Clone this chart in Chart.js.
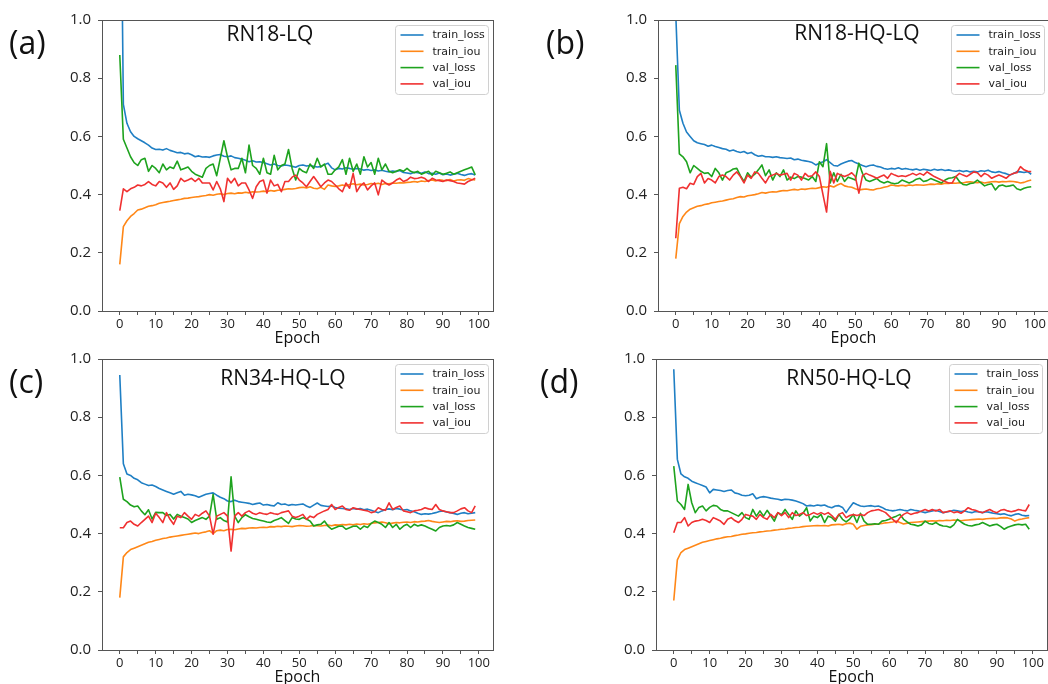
<!DOCTYPE html>
<html>
<head>
<meta charset="utf-8">
<script src="https://cdn.jsdelivr.net/npm/chart.js@4.4.1/dist/chart.umd.min.js"></script>
<style>
html, body { margin: 0; padding: 0; background: #fff; }
body { width: 1048px; height: 684px; overflow: hidden; position: relative; font-family: "Open Sans", sans-serif; }
.panel { position: absolute; width: 500px; height: 350px; }
.tag { position: absolute; font-size: 32px; line-height: 32px; color: #111; }
</style>
</head>
<body>
<div class="panel" style="left:0;top:0"><canvas id="graphA"></canvas></div>
<div class="panel" style="left:556px;top:0"><canvas id="graphB"></canvas></div>
<div class="panel" style="left:0;top:339px"><canvas id="graphC"></canvas></div>
<div class="panel" style="left:554px;top:339px"><canvas id="graphD"></canvas></div>
<div class="tag" style="left:9px;top:26px">(a)</div>
<div class="tag" style="left:546px;top:26px">(b)</div>
<div class="tag" style="left:9px;top:365px">(c)</div>
<div class="tag" style="left:540px;top:365px">(d)</div>
<script>
const epochs = Array.from({ length: 100 }, (_, i) => i);
const seriesNames = ['train_loss', 'train_iou', 'val_loss', 'val_iou'];
const seriesColors = ['#1f7fc4', '#ff8717', '#1ea31e', '#f03030'];
const xTickValues = [0, 5, 10, 15, 20, 25, 30, 35, 40, 45, 50, 55, 60, 65, 70, 75, 80, 85, 90, 95, 100];
const yTickValues = [0, 0.2, 0.4, 0.6, 0.8, 1.0];
const panelTitles = ['RN18-LQ', 'RN18-HQ-LQ', 'RN34-HQ-LQ', 'RN50-HQ-LQ'];

// (a) RN18-LQ
const aTrainLoss = [
  1.85, 0.71, 0.645, 0.616, 0.600, 0.592, 0.585, 0.578, 0.570, 0.560,
  0.555, 0.556, 0.553, 0.558, 0.552, 0.548, 0.544, 0.545, 0.540, 0.542,
  0.537, 0.530, 0.533, 0.529, 0.530, 0.528, 0.533, 0.536, 0.538, 0.532,
  0.530, 0.533, 0.527, 0.525, 0.522, 0.518, 0.513, 0.516, 0.512, 0.513,
  0.510, 0.506, 0.502, 0.505, 0.500, 0.498, 0.502, 0.500, 0.497, 0.494,
  0.500, 0.502, 0.498, 0.500, 0.497, 0.495, 0.496, 0.503, 0.508, 0.492,
  0.485, 0.490, 0.488, 0.492, 0.490, 0.487, 0.490, 0.488, 0.484, 0.486,
  0.483, 0.485, 0.481, 0.484, 0.480, 0.478, 0.481, 0.479, 0.483, 0.476,
  0.474, 0.472, 0.477, 0.475, 0.473, 0.478, 0.472, 0.473, 0.470, 0.474,
  0.468, 0.471, 0.467, 0.470, 0.473, 0.469, 0.466, 0.470, 0.472, 0.467
];
const aTrainIou = [
  0.16, 0.29, 0.31, 0.325, 0.335, 0.347, 0.35, 0.355, 0.36, 0.362,
  0.365, 0.37, 0.373, 0.375, 0.377, 0.38, 0.382, 0.384, 0.387, 0.388,
  0.39, 0.392, 0.393, 0.395, 0.397, 0.40, 0.398, 0.401, 0.403, 0.40,
  0.404, 0.405, 0.403, 0.406, 0.405, 0.408, 0.406, 0.41, 0.409, 0.41,
  0.412, 0.41, 0.414, 0.412, 0.415, 0.416, 0.418, 0.42, 0.419, 0.421,
  0.424, 0.425, 0.423, 0.427, 0.422, 0.42, 0.425, 0.418, 0.433, 0.43,
  0.428, 0.43, 0.433, 0.43, 0.435, 0.437, 0.434, 0.436, 0.433, 0.435,
  0.438, 0.436, 0.439, 0.435, 0.438, 0.437, 0.44, 0.439, 0.441, 0.44,
  0.442, 0.443, 0.445, 0.443, 0.447, 0.445, 0.448, 0.45, 0.447, 0.451,
  0.449, 0.448, 0.452, 0.447, 0.45, 0.451, 0.449, 0.455, 0.452, 0.45
];
const aValLoss = [
  0.88, 0.59, 0.56, 0.53, 0.51, 0.50, 0.52, 0.525, 0.48, 0.50,
  0.49, 0.475, 0.505, 0.485, 0.495, 0.49, 0.515, 0.485, 0.49, 0.495,
  0.48, 0.47, 0.465, 0.46, 0.49, 0.50, 0.505, 0.465, 0.525, 0.585,
  0.53, 0.485, 0.49, 0.49, 0.525, 0.475, 0.57, 0.50, 0.49, 0.47,
  0.525, 0.475, 0.47, 0.535, 0.485, 0.50, 0.505, 0.555, 0.49, 0.45,
  0.49, 0.48, 0.475, 0.505, 0.49, 0.525, 0.495, 0.505, 0.47, 0.47,
  0.485, 0.495, 0.52, 0.47, 0.525, 0.48, 0.505, 0.47, 0.53, 0.495,
  0.51, 0.47, 0.525, 0.485, 0.505, 0.48, 0.475, 0.48, 0.485, 0.48,
  0.49, 0.48, 0.475, 0.48, 0.47, 0.475, 0.48, 0.467, 0.48, 0.475,
  0.47, 0.473, 0.478, 0.47, 0.475, 0.48, 0.485, 0.49, 0.495, 0.468
];
const aValIou = [
  0.345, 0.42, 0.41, 0.42, 0.425, 0.433, 0.43, 0.435, 0.445, 0.435,
  0.43, 0.445, 0.44, 0.425, 0.44, 0.418, 0.43, 0.456, 0.445, 0.45,
  0.456, 0.445, 0.456, 0.44, 0.44, 0.44, 0.416, 0.445, 0.42, 0.376,
  0.456, 0.44, 0.456, 0.43, 0.44, 0.44, 0.416, 0.387, 0.427, 0.445,
  0.45, 0.405, 0.45, 0.43, 0.435, 0.41, 0.445, 0.445, 0.46, 0.467,
  0.45, 0.44, 0.427, 0.445, 0.462, 0.445, 0.427, 0.44, 0.45, 0.445,
  0.433, 0.42, 0.41, 0.44, 0.422, 0.473, 0.41, 0.43, 0.44, 0.416,
  0.43, 0.44, 0.399, 0.45, 0.44, 0.433, 0.44, 0.45, 0.456, 0.445,
  0.45, 0.46, 0.455, 0.456, 0.46, 0.455, 0.445, 0.456, 0.45, 0.448,
  0.445, 0.45, 0.448, 0.445, 0.44, 0.438, 0.436, 0.445, 0.45, 0.456
];

// (b) RN18-HQ-LQ
const bTrainLoss = [
  1.02, 0.69, 0.645, 0.615, 0.60, 0.585, 0.578, 0.575, 0.572, 0.566,
  0.570, 0.565, 0.562, 0.558, 0.556, 0.55, 0.553, 0.548, 0.545, 0.548,
  0.541, 0.545, 0.537, 0.532, 0.534, 0.53, 0.53, 0.528, 0.53, 0.527,
  0.526, 0.524, 0.526, 0.52, 0.522, 0.518, 0.516, 0.514, 0.51, 0.502,
  0.508, 0.513, 0.52, 0.51, 0.50, 0.498, 0.505, 0.51, 0.515, 0.517,
  0.51, 0.505, 0.50, 0.496, 0.50, 0.502, 0.497, 0.495, 0.49, 0.487,
  0.49, 0.488, 0.492, 0.487, 0.49, 0.487, 0.485, 0.488, 0.484, 0.487,
  0.485, 0.483, 0.487, 0.484, 0.486, 0.483, 0.485, 0.482, 0.48, 0.483,
  0.479, 0.482, 0.478, 0.48, 0.478, 0.482, 0.48, 0.484, 0.478, 0.476,
  0.479, 0.475, 0.472, 0.467, 0.472, 0.479, 0.478, 0.476, 0.479, 0.47
];
const bTrainIou = [
  0.18, 0.30, 0.325, 0.34, 0.35, 0.355, 0.36, 0.362, 0.366, 0.368,
  0.372, 0.374, 0.376, 0.378, 0.381, 0.384, 0.386, 0.39, 0.393, 0.392,
  0.396, 0.398, 0.40, 0.403, 0.407, 0.405, 0.408, 0.41, 0.409, 0.412,
  0.414, 0.413, 0.416, 0.418, 0.416, 0.419, 0.418, 0.42, 0.422, 0.421,
  0.424, 0.427, 0.425, 0.43, 0.426, 0.433, 0.438, 0.43, 0.427, 0.425,
  0.42, 0.416, 0.418, 0.419, 0.417, 0.416, 0.42, 0.422, 0.425, 0.428,
  0.433, 0.431, 0.43, 0.432, 0.43, 0.433, 0.431, 0.434, 0.433, 0.432,
  0.434, 0.436, 0.435, 0.437, 0.436, 0.439, 0.438, 0.44, 0.439, 0.441,
  0.44, 0.443, 0.444, 0.442, 0.441, 0.443, 0.44, 0.442, 0.444, 0.445,
  0.443, 0.445, 0.444, 0.446, 0.445, 0.443, 0.44, 0.442, 0.447, 0.45
];
const bValLoss = [
  0.845, 0.54, 0.53, 0.513, 0.475, 0.50, 0.49, 0.48, 0.473, 0.475,
  0.462, 0.49, 0.475, 0.45, 0.475, 0.48, 0.488, 0.49, 0.465, 0.445,
  0.475, 0.46, 0.47, 0.485, 0.502, 0.465, 0.485, 0.45, 0.475, 0.462,
  0.485, 0.45, 0.46, 0.455, 0.462, 0.46, 0.455, 0.45, 0.462, 0.445,
  0.513, 0.496, 0.575, 0.44, 0.475, 0.445, 0.47, 0.445, 0.46, 0.455,
  0.45, 0.508, 0.473, 0.45, 0.445, 0.45, 0.455, 0.445, 0.44, 0.445,
  0.44, 0.437, 0.44, 0.45, 0.445, 0.44, 0.445, 0.453, 0.456, 0.445,
  0.448, 0.455, 0.45, 0.445, 0.44, 0.45, 0.456, 0.458, 0.462, 0.445,
  0.435, 0.433, 0.438, 0.44, 0.45, 0.44, 0.43, 0.435, 0.437, 0.416,
  0.43, 0.433, 0.428, 0.43, 0.433, 0.42, 0.416, 0.422, 0.425, 0.427
];
const bValIou = [
  0.25, 0.422, 0.425, 0.42, 0.439, 0.435, 0.462, 0.473, 0.44, 0.455,
  0.45, 0.44, 0.462, 0.467, 0.462, 0.45, 0.467, 0.478, 0.462, 0.44,
  0.467, 0.456, 0.478, 0.473, 0.456, 0.44, 0.462, 0.467, 0.473, 0.467,
  0.47, 0.473, 0.45, 0.473, 0.467, 0.45, 0.473, 0.462, 0.465, 0.478,
  0.462, 0.40, 0.34, 0.48, 0.44, 0.473, 0.467, 0.462, 0.467, 0.475,
  0.462, 0.405, 0.465, 0.473, 0.467, 0.462, 0.456, 0.462, 0.467, 0.456,
  0.473, 0.467, 0.462, 0.465, 0.462, 0.467, 0.473, 0.467, 0.473, 0.467,
  0.478, 0.47, 0.462, 0.456, 0.45, 0.445, 0.44, 0.44, 0.462, 0.473,
  0.467, 0.462, 0.47, 0.478, 0.475, 0.462, 0.473, 0.467, 0.456, 0.462,
  0.467, 0.462, 0.456, 0.467, 0.473, 0.475, 0.496, 0.485, 0.48, 0.479
];

// (c) RN34-HQ-LQ
const cTrainLoss = [
  0.945, 0.64, 0.605, 0.60, 0.59, 0.585, 0.575, 0.57, 0.565, 0.567,
  0.562, 0.555, 0.55, 0.545, 0.54, 0.535, 0.54, 0.545, 0.532, 0.535,
  0.533, 0.53, 0.525, 0.53, 0.535, 0.538, 0.54, 0.532, 0.525, 0.52,
  0.512, 0.51, 0.515, 0.51, 0.508, 0.506, 0.504, 0.50, 0.503, 0.505,
  0.498, 0.50, 0.497, 0.495, 0.506, 0.50, 0.502, 0.497, 0.50, 0.498,
  0.50, 0.502, 0.495, 0.49, 0.498, 0.505, 0.497, 0.495, 0.493, 0.495,
  0.49, 0.487, 0.486, 0.485, 0.483, 0.486, 0.484, 0.486, 0.482, 0.484,
  0.48, 0.476, 0.472, 0.478, 0.483, 0.485, 0.482, 0.486, 0.484, 0.481,
  0.483, 0.478, 0.475, 0.47, 0.466, 0.468, 0.467, 0.469, 0.472, 0.476,
  0.478, 0.474, 0.472, 0.469, 0.466, 0.47, 0.472, 0.468, 0.47, 0.472
];
const cTrainIou = [
  0.18, 0.32, 0.335, 0.345, 0.35, 0.355, 0.36, 0.365, 0.37, 0.373,
  0.377, 0.38, 0.383, 0.385, 0.388, 0.39, 0.392, 0.394, 0.396, 0.398,
  0.40, 0.402, 0.40, 0.404, 0.406, 0.41, 0.40, 0.41, 0.412, 0.41,
  0.414, 0.415, 0.413, 0.416, 0.418, 0.417, 0.419, 0.42, 0.419, 0.421,
  0.422, 0.421, 0.424, 0.423, 0.425, 0.424, 0.426, 0.425, 0.424, 0.426,
  0.428, 0.427, 0.425, 0.426, 0.428, 0.427, 0.426, 0.428, 0.429, 0.427,
  0.43, 0.429, 0.431, 0.43, 0.432, 0.43, 0.433, 0.431, 0.434, 0.432,
  0.435, 0.437, 0.438, 0.44, 0.437, 0.434, 0.436, 0.438, 0.437, 0.439,
  0.44, 0.438, 0.441, 0.44, 0.442, 0.443, 0.445, 0.442, 0.44, 0.438,
  0.44, 0.442, 0.441, 0.443, 0.444, 0.442, 0.443, 0.445, 0.446, 0.447
];
const cValLoss = [
  0.594, 0.518, 0.51, 0.498, 0.492, 0.495, 0.478, 0.465, 0.482, 0.45,
  0.473, 0.472, 0.472, 0.462, 0.466, 0.45, 0.466, 0.46, 0.455, 0.45,
  0.438, 0.445, 0.45, 0.455, 0.449, 0.46, 0.535, 0.449, 0.455, 0.445,
  0.44, 0.595, 0.46, 0.438, 0.455, 0.465, 0.458, 0.452, 0.449, 0.446,
  0.443, 0.44, 0.438, 0.445, 0.449, 0.455, 0.445, 0.435, 0.455, 0.45,
  0.449, 0.455, 0.45, 0.443, 0.426, 0.43, 0.432, 0.443, 0.426, 0.415,
  0.42, 0.425, 0.426, 0.415, 0.42, 0.425, 0.426, 0.415, 0.426, 0.421,
  0.435, 0.443, 0.438, 0.432, 0.421, 0.438, 0.421, 0.432, 0.415, 0.426,
  0.432, 0.421, 0.432, 0.426, 0.43, 0.426, 0.42, 0.415, 0.409, 0.421,
  0.426, 0.428, 0.426, 0.43, 0.438, 0.432, 0.426, 0.421, 0.418, 0.415
];
const cValIou = [
  0.42, 0.42, 0.438, 0.443, 0.432, 0.426, 0.438, 0.449, 0.46, 0.438,
  0.47, 0.455, 0.438, 0.472, 0.449, 0.432, 0.46, 0.455, 0.472, 0.46,
  0.449, 0.466, 0.46, 0.47, 0.478, 0.46, 0.398, 0.46, 0.466, 0.472,
  0.46, 0.34, 0.46, 0.472, 0.46, 0.472, 0.478, 0.47, 0.466, 0.472,
  0.468, 0.466, 0.472, 0.468, 0.466, 0.472, 0.475, 0.478, 0.46, 0.455,
  0.46, 0.466, 0.449, 0.46, 0.455, 0.466, 0.472, 0.478, 0.483, 0.50,
  0.483, 0.49, 0.495, 0.483, 0.48, 0.489, 0.485, 0.483, 0.48, 0.478,
  0.472, 0.475, 0.489, 0.483, 0.48, 0.506, 0.483, 0.49, 0.495, 0.478,
  0.475, 0.472, 0.478, 0.48, 0.483, 0.489, 0.485, 0.483, 0.50, 0.483,
  0.478, 0.475, 0.472, 0.472, 0.478, 0.485, 0.489, 0.478, 0.472, 0.495
];

// (d) RN50-HQ-LQ
const dTrainLoss = [
  0.965, 0.655, 0.605, 0.595, 0.59, 0.58, 0.575, 0.57, 0.565, 0.56,
  0.54, 0.552, 0.55, 0.548, 0.545, 0.548, 0.55, 0.54, 0.537, 0.532,
  0.53, 0.532, 0.537, 0.52, 0.525, 0.527, 0.525, 0.522, 0.52, 0.518,
  0.515, 0.518, 0.517, 0.515, 0.512, 0.508, 0.503, 0.495, 0.497, 0.495,
  0.498, 0.496, 0.498, 0.492, 0.489, 0.495, 0.496, 0.49, 0.472, 0.49,
  0.506, 0.50, 0.495, 0.493, 0.495, 0.496, 0.493, 0.495, 0.49, 0.483,
  0.48, 0.478, 0.48, 0.483, 0.48, 0.478, 0.483, 0.48, 0.478, 0.475,
  0.472, 0.475, 0.478, 0.48, 0.476, 0.472, 0.474, 0.477, 0.48, 0.478,
  0.476, 0.478, 0.474, 0.472, 0.476, 0.474, 0.472, 0.475, 0.473, 0.47,
  0.468, 0.466, 0.468, 0.464, 0.461, 0.466, 0.468, 0.463, 0.461, 0.462
];
const dTrainIou = [
  0.17, 0.31, 0.335, 0.345, 0.35, 0.355, 0.36, 0.365, 0.37, 0.373,
  0.376, 0.379, 0.382, 0.384, 0.387, 0.389, 0.39, 0.393, 0.395, 0.398,
  0.399, 0.401, 0.403, 0.404, 0.406, 0.407, 0.409, 0.41, 0.412, 0.413,
  0.415, 0.416, 0.418, 0.419, 0.421, 0.422, 0.424, 0.425, 0.426, 0.427,
  0.428, 0.427, 0.428, 0.426, 0.43, 0.431, 0.432, 0.43, 0.434, 0.436,
  0.432, 0.415, 0.425, 0.428, 0.43, 0.431, 0.432, 0.433, 0.435, 0.437,
  0.438, 0.44, 0.443, 0.438, 0.433, 0.436, 0.438, 0.439, 0.44, 0.441,
  0.442, 0.443, 0.444, 0.443, 0.445, 0.444, 0.446, 0.445, 0.447, 0.446,
  0.444, 0.446, 0.447, 0.448, 0.449, 0.45, 0.449, 0.451, 0.452, 0.453,
  0.452, 0.454, 0.455, 0.454, 0.45, 0.443, 0.448, 0.45, 0.453, 0.455
];
const dValLoss = [
  0.632, 0.512, 0.50, 0.483, 0.569, 0.506, 0.472, 0.49, 0.495, 0.478,
  0.49, 0.497, 0.495, 0.483, 0.478, 0.478, 0.472, 0.466, 0.46, 0.472,
  0.455, 0.449, 0.483, 0.46, 0.478, 0.46, 0.48, 0.462, 0.443, 0.472,
  0.465, 0.483, 0.466, 0.449, 0.478, 0.46, 0.47, 0.489, 0.443, 0.46,
  0.455, 0.466, 0.438, 0.46, 0.455, 0.443, 0.466, 0.449, 0.44, 0.45,
  0.466, 0.438, 0.47, 0.443, 0.432, 0.432, 0.434, 0.432, 0.443, 0.445,
  0.449, 0.455, 0.46, 0.466, 0.449, 0.44, 0.432, 0.43, 0.426, 0.43,
  0.443, 0.435, 0.432, 0.438, 0.43, 0.426, 0.425, 0.421, 0.43, 0.449,
  0.44, 0.432, 0.428, 0.426, 0.43, 0.432, 0.438, 0.432, 0.426, 0.43,
  0.432, 0.425, 0.415, 0.422, 0.426, 0.43, 0.432, 0.43, 0.432, 0.415
];
const dValIou = [
  0.403, 0.438, 0.438, 0.455, 0.426, 0.438, 0.443, 0.445, 0.449, 0.445,
  0.438, 0.455, 0.449, 0.443, 0.432, 0.449, 0.455, 0.445, 0.438, 0.449,
  0.466, 0.462, 0.46, 0.449, 0.466, 0.455, 0.449, 0.466, 0.455, 0.472,
  0.462, 0.472, 0.455, 0.472, 0.462, 0.466, 0.472, 0.462, 0.466, 0.472,
  0.466, 0.472, 0.466, 0.472, 0.462, 0.449, 0.466, 0.472, 0.455, 0.462,
  0.466, 0.462, 0.466, 0.462, 0.472, 0.478, 0.48, 0.483, 0.478, 0.472,
  0.46, 0.449, 0.438, 0.455, 0.466, 0.472, 0.466, 0.47, 0.472, 0.478,
  0.483, 0.478, 0.483, 0.478, 0.483, 0.472, 0.475, 0.478, 0.472, 0.475,
  0.47, 0.478, 0.489, 0.483, 0.48, 0.475, 0.472, 0.478, 0.483, 0.476,
  0.472, 0.48, 0.483, 0.478, 0.475, 0.478, 0.483, 0.48, 0.478, 0.50
];

Chart.defaults.font.family = '"Open Sans", sans-serif';

// frame, title inside the axes and matplotlib-like legend box
const panelDecor = {
  id: 'panelDecor',
  afterDraw(chart, args, opts) {
    const { ctx, chartArea: a } = chart;
    ctx.save();
    ctx.strokeStyle = '#555';
    ctx.lineWidth = 1;
    ctx.strokeRect(Math.round(a.left) + 0.5, Math.round(a.top) + 0.5,
      Math.round(a.right - a.left), Math.round(a.bottom - a.top));

    ctx.fillStyle = '#111';
    ctx.font = '21px "Open Sans"';
    ctx.textAlign = 'center';
    ctx.textBaseline = 'middle';
    ctx.fillText(opts.text, opts.x, opts.y);

    const w = 93, h = 69;
    const bx = Math.round(a.right - 5 - w) + 0.5, by = Math.round(a.top + 5) + 0.5;
    ctx.beginPath();
    if (ctx.roundRect) ctx.roundRect(bx, by, w, h, 3); else ctx.rect(bx, by, w, h);
    ctx.fillStyle = 'rgba(255,255,255,0.85)';
    ctx.fill();
    ctx.strokeStyle = '#d0d0d0';
    ctx.stroke();

    ctx.font = '11px "DejaVu Sans"';
    ctx.textAlign = 'left';
    chart.data.datasets.forEach((ds, i) => {
      const y = by + 9.5 + i * 16.3;
      ctx.strokeStyle = ds.borderColor;
      ctx.lineWidth = 1.6;
      ctx.beginPath();
      ctx.moveTo(bx + 5, y);
      ctx.lineTo(bx + 28, y);
      ctx.stroke();
      ctx.fillStyle = '#222';
      ctx.fillText(ds.label, bx + 37, y + 0.5);
    });
    ctx.restore();
  }
};

function buildChart(canvasId, title, titleX, titleY, values) {
  const datasets = seriesNames.map((name, i) => ({
    label: name,
    data: values[i],
    borderColor: seriesColors[i],
    backgroundColor: seriesColors[i],
    borderWidth: 1.6,
    borderJoinStyle: 'round',
    pointRadius: 0,
    tension: 0,
    order: seriesNames.length - i
  }));
  return new Chart(document.getElementById(canvasId), {
    type: 'line',
    data: { labels: epochs, datasets: datasets },
    options: {
      responsive: true,
      maintainAspectRatio: false,
      animation: false,
      layout: { padding: { left: 0, right: 7, top: 20, bottom: 0 } },
      plugins: {
        legend: { display: false },
        tooltip: { enabled: false },
        panelDecor: { text: title, x: titleX, y: titleY }
      },
      scales: {
        x: {
          type: 'linear',
          min: -4.95,
          max: 103.95,
          afterBuildTicks: s => { s.ticks = xTickValues.map(v => ({ value: v })); },
          afterFit: s => { s.height = 39; },
          ticks: {
            autoSkip: false,
            maxRotation: 0,
            padding: 1,
            color: '#222',
            font: { size: 13 },
            callback: v => (v % 10 === 0 ? String(v) : '')
          },
          grid: { drawOnChartArea: false, tickLength: 4, tickColor: '#555' },
          border: { display: false },
          title: { display: true, text: 'Epoch', color: '#111', font: { size: 16 }, padding: { top: 0, bottom: 2 } }
        },
        y: {
          min: 0,
          max: 1,
          afterBuildTicks: s => { s.ticks = yTickValues.map(v => ({ value: v })); },
          afterFit: s => { s.width = 102; },
          ticks: {
            padding: 7,
            color: '#222',
            font: { size: 15 },
            callback: v => v.toFixed(1)
          },
          grid: { drawOnChartArea: false, tickLength: 4, tickColor: '#555' },
          border: { display: false }
        }
      }
    }
  ,
    plugins: [panelDecor]
  });
}

buildChart('graphA', panelTitles[0], 270, 35, [aTrainLoss, aTrainIou, aValLoss, aValIou]);
buildChart('graphB', panelTitles[1], 301, 34, [bTrainLoss, bTrainIou, bValLoss, bValIou]);
buildChart('graphC', panelTitles[2], 283, 40, [cTrainLoss, cTrainIou, cValLoss, cValIou]);
buildChart('graphD', panelTitles[3], 295, 40, [dTrainLoss, dTrainIou, dValLoss, dValIou]);
</script>
</body>
</html>
